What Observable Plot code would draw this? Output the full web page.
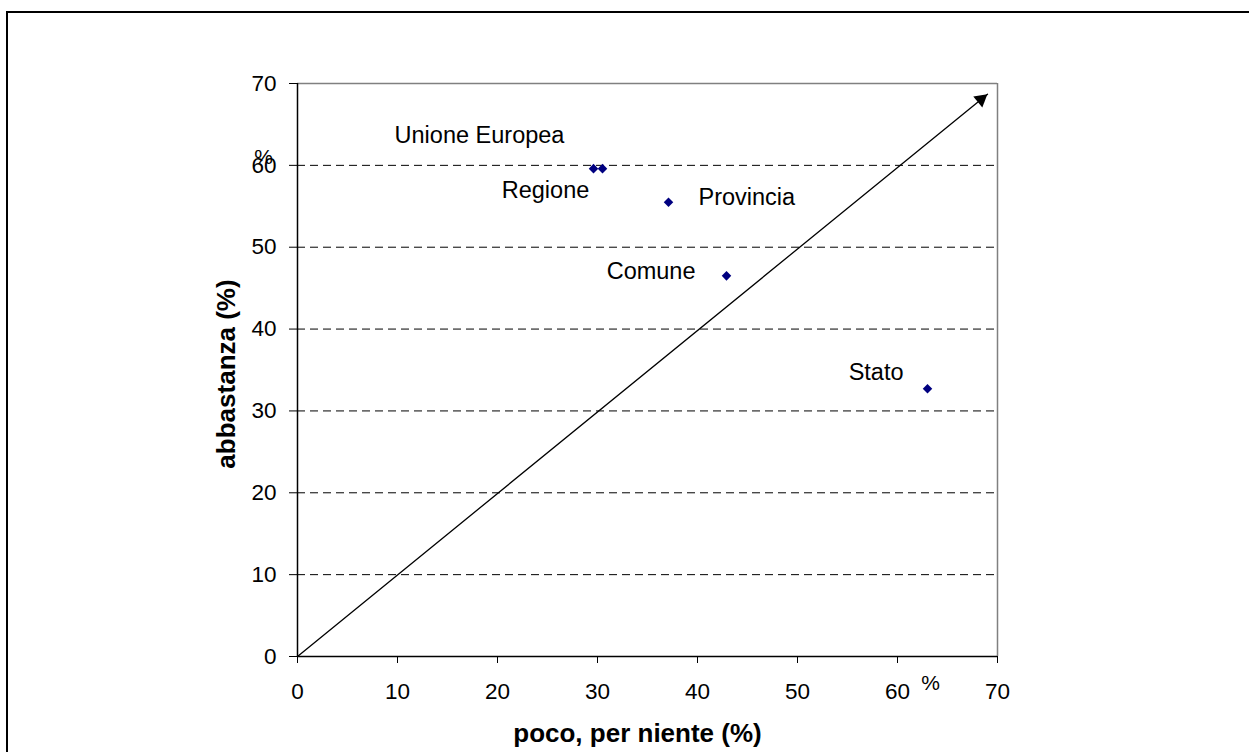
<!DOCTYPE html>
<html>
<head>
<meta charset="utf-8">
<script src="https://cdn.jsdelivr.net/npm/d3@7"></script>
<script src="https://cdn.jsdelivr.net/npm/@observablehq/plot@0.6"></script>
<style>
  html, body { margin: 0; padding: 0; background: #fff; }
  #wrap { position: relative; width: 1249px; height: 752px; overflow: hidden; }
  #frame { position: absolute; left: 6px; top: 11px; width: 1300px; height: 800px; border: 2px solid #000; box-sizing: border-box; pointer-events: none; }
  #chart svg { display: block; }
</style>
</head>
<body>
<div id="wrap"><div id="chart"></div><div id="frame"></div></div>
<script>
// --- data ---
const names = ["Unione Europea", "Regione", "Provincia", "Comune", "Stato"];
const poco = [29.6, 30.5, 37.1, 42.9, 63.0];          // poco, per niente (%)
const abbastanza = [59.6, 59.6, 55.5, 46.5, 32.7];    // abbastanza (%)
const xTicks = [0, 10, 20, 30, 40, 50, 60, 70];
const yTicks = [0, 10, 20, 30, 40, 50, 60, 70];
const gridValues = [10, 20, 30, 40, 50, 60];
const diagX = [0, 69];
const diagY = [0, 68.7];
const strayText = ["%", "%"];
const strayX = [-3.4, 63.3];
const strayY = [61.0, -3.3];

const points = names.map((n, i) => ({name: n, x: poco[i], y: abbastanza[i]}));
const diag = diagX.map((x, i) => ({x, y: diagY[i]}));
const tip = [diag[diag.length - 1]];
const stray = strayText.map((t, i) => ({t, x: strayX[i], y: strayY[i]}));

const font = "'Liberation Sans', Arial, Helvetica, sans-serif";
const label = (name, textAnchor, dx, dy) =>
  Plot.text(points.filter(d => d.name === name), {x: "x", y: "y", text: "name", textAnchor, dx, dy, fontSize: 23.5, fill: "black"});

const chart = Plot.plot({
  width: 1249,
  height: 752,
  marginLeft: 297,
  marginRight: 252,
  marginTop: 83,
  marginBottom: 96,
  x: {domain: [0, 70]},
  y: {domain: [0, 70]},
  style: {fontFamily: font, color: "black", background: "white", overflow: "visible"},
  marks: [
    Plot.ruleY(gridValues, {stroke: "black", strokeWidth: 1, strokeDasharray: "8,5"}),
    Plot.ruleY([70], {stroke: "#808080", strokeWidth: 1.5}),
    Plot.ruleX([70], {stroke: "#808080", strokeWidth: 1.5}),
    Plot.ruleX([0], {stroke: "black", strokeWidth: 1.5}),
    Plot.ruleY([0], {stroke: "black", strokeWidth: 1.5}),
    Plot.axisX({ticks: xTicks, tickSize: 7, tickPadding: 20, fontSize: 22.5, label: null, stroke: "black"}),
    Plot.axisY({ticks: yTicks, tickSize: 8, tickPadding: 13, fontSize: 22.5, label: null, stroke: "black"}),
    Plot.line(diag, {x: "x", y: "y", stroke: "black", strokeWidth: 1.3}),
    Plot.dot(tip, {x: "x", y: "y", symbol: "triangle", r: 5.3, fill: "black", stroke: "none", rotate: 50.8, dx: -6.5, dy: 5.3}),
    Plot.dot(points, {x: "x", y: "y", symbol: "diamond2", r: 4.3, fill: "#000080", stroke: "none"}),
    label("Unione Europea", "middle", -114, -33),
    label("Regione", "middle", -57, 22),
    label("Provincia", "start", 30, -5),
    label("Comune", "end", -31, -4),
    label("Stato", "end", -24, -16),
    Plot.text(stray, {x: "x", y: "y", text: "t", fontSize: 21, fill: "black"}),
    Plot.text(["poco, per niente (%)"], {frameAnchor: "bottom", textAnchor: "middle", lineAnchor: "middle", dy: 77, dx: -10, fontSize: 26, fontWeight: "bold", fill: "black"}),
    Plot.text(["abbastanza (%)"], {frameAnchor: "left", textAnchor: "middle", lineAnchor: "middle", dx: -71, dy: 4, rotate: -90, fontSize: 26, fontWeight: "bold", fill: "black"})
  ]
});
document.getElementById("chart").appendChild(chart);
</script>
</body>
</html>
